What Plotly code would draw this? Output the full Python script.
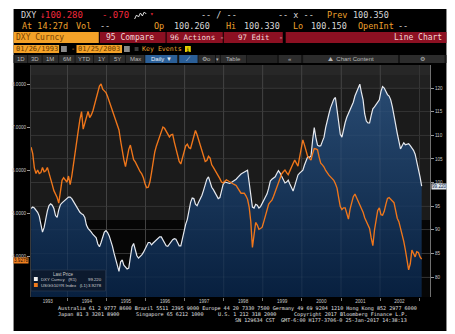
import plotly.graph_objects as go
import pandas as pd

# ---------------- data ----------------
start_date = "1993-01-26"
end_date = "2003-01-25"

dxy = [
    94.5, 94.8, 94.6, 94.1, 93.7, 92.9, 91.3, 89.5, 90.5, 92.6, 94.0, 95.1, 95.5, 95.2, 94.5, 93.0, 92.6, 94.2, 95.3, 95.7, 96.0, 96.2, 96.6, 96.9,
    96.9, 96.6, 96.0, 95.4, 94.8, 94.0, 93.7, 93.4, 93.2, 92.6, 91.0, 90.3, 90.0, 89.5, 89.0, 88.7, 88.3, 87.0, 86.4, 87.3, 88.5, 89.5, 89.8, 89.4,
    88.7, 87.7, 86.5, 85.0, 83.6, 82.3, 81.2, 83.2, 83.6, 82.5, 82.0, 81.7, 81.9, 84.8, 86.4, 87.1, 85.6, 84.5, 84.0, 84.3, 84.7, 85.2, 86.0, 86.8,
    87.3, 87.3, 86.8, 87.2, 87.5, 87.9, 88.2, 88.5, 88.5, 87.8, 87.0, 86.6, 86.5, 87.0, 87.5, 87.9, 88.1, 88.0, 87.3, 86.6, 86.6, 88.2, 89.5, 91.2,
    92.2, 94.4, 95.8, 96.7, 96.6, 95.4, 95.1, 95.9, 96.5, 97.3, 98.4, 99.8, 100.7, 101.2, 100.2, 99.0, 98.5, 97.8, 97.4, 96.6, 96.8, 98.5, 99.6, 100.1,
    100.0, 99.8, 99.8, 100.0, 100.2, 100.4, 100.7, 101.1, 101.5, 101.8, 102.0, 102.2, 102.4, 102.6, 100.0, 97.3, 94.8, 94.6, 95.4, 95.2, 94.6, 94.9, 95.5, 96.1,
    96.9, 97.6, 98.8, 100.3, 100.7, 100.9, 101.2, 101.9, 102.5, 102.0, 101.3, 100.6, 99.9, 100.1, 100.5, 99.7, 98.8, 98.2, 99.3, 100.7, 101.6, 102.0, 102.3, 102.6,
    103.7, 104.8, 105.5, 105.3, 105.6, 109.0, 111.6, 109.5, 107.9, 107.7, 107.8, 108.7, 109.6, 111.6, 113.3, 114.5, 115.8, 116.9, 117.6, 118.0, 115.5, 113.3, 110.2, 109.6,
    111.3, 112.7, 113.8, 114.6, 115.5, 116.2, 117.0, 118.3, 119.2, 120.2, 120.8, 119.0, 117.5, 114.5, 113.0, 112.6, 112.6, 114.2, 115.6, 116.0, 116.6, 116.9, 117.5, 119.3,
    120.3, 120.0, 119.1, 118.6, 118.3, 117.5, 116.0, 114.5, 112.3, 110.4, 108.3, 107.1, 107.8, 108.4, 108.0, 108.1, 108.2, 107.8, 107.4, 106.8, 106.0, 104.5, 103.1, 101.2,
    99.22,
]

usgg10yr = [
    6.53, 6.38, 6.05, 5.92, 6.00, 5.92, 5.94, 6.06, 5.96, 5.98, 6.06, 5.94, 5.80, 5.66, 5.52, 5.44, 5.36, 5.23, 5.50, 5.76, 5.82, 5.78, 5.72, 5.86,
    5.66, 5.86, 6.10, 6.36, 6.62, 6.92, 7.18, 7.36, 6.95, 7.08, 7.27, 7.36, 7.22, 7.28, 7.38, 7.53, 7.71, 7.84, 7.95, 8.00, 7.88, 7.84, 7.80, 7.71,
    7.60, 7.49, 7.36, 7.25, 7.12, 7.02, 6.93, 6.68, 6.42, 6.24, 6.08, 6.34, 6.48, 6.58, 6.40, 6.24, 6.19, 6.10, 6.04, 5.96, 5.91, 5.82, 5.68, 5.59,
    5.60, 5.72, 5.94, 6.24, 6.42, 6.56, 6.66, 6.78, 6.90, 7.00, 6.97, 6.91, 6.82, 6.77, 6.82, 6.83, 6.65, 6.50, 6.36, 6.20, 6.14, 6.30, 6.44, 6.56,
    6.60, 6.52, 6.50, 6.64, 6.78, 6.92, 6.82, 6.70, 6.54, 6.42, 6.32, 6.20, 6.22, 6.32, 6.28, 6.12, 6.06, 6.00, 5.94, 5.88, 5.80, 5.72, 5.70, 5.74,
    5.77, 5.75, 5.72, 5.70, 5.68, 5.66, 5.64, 5.58, 5.50, 5.46, 5.46, 5.46, 5.40, 5.32, 5.14, 4.80, 4.20, 4.50, 4.78, 4.72, 4.62, 4.64, 4.67, 4.80,
    4.96, 5.10, 5.21, 5.26, 5.30, 5.39, 5.49, 5.62, 5.72, 5.82, 5.91, 5.96, 6.00, 5.94, 5.89, 5.98, 6.08, 6.15, 6.23, 6.16, 6.09, 6.30, 6.55, 6.70,
    6.58, 6.44, 6.31, 6.27, 6.23, 6.38, 6.50, 6.49, 6.47, 6.30, 6.16, 6.12, 6.07, 5.99, 5.92, 5.88, 5.84, 5.81, 5.76, 5.68, 5.58, 5.36, 5.15, 5.08,
    5.12, 5.12, 4.96, 4.86, 5.09, 5.26, 5.38, 5.44, 5.35, 5.28, 5.20, 5.12, 5.02, 4.89, 4.80, 4.72, 4.64, 4.42, 4.24, 4.60, 4.86, 5.06, 5.12, 4.96,
    4.95, 5.04, 5.20, 5.34, 5.36, 5.31, 5.28, 5.24, 5.06, 4.88, 4.80, 4.66, 4.50, 4.34, 4.14, 3.92, 3.68, 3.82, 4.14, 4.06, 3.98, 4.10, 4.08, 3.98,
    3.9278,
]

year_labels = ["1993", "1994", "1995", "1996", "1997", "1998", "1999", "2000", "2001", "2002"]
year_starts = ["1994", "1995", "1996", "1997", "1998", "1999", "2000", "2001", "2002", "2003"]
dxy_ticks = [80, 85, 90, 95, 100, 105, 110, 115, 120]
rate_ticks = [4, 5, 6, 7, 8]
rate_tick_text = ["4.0000", "5.0000", "6.0000", "7.0000", "8.0000"]
dxy_last = "99.220"
rate_last = "3.9278"

dates = pd.date_range(start_date, end_date, periods=len(dxy))

# ---------------- geometry helpers ----------------
W, H = 455, 334
L, R, T, B = 21, 22, 65, 37
PW = W - L - R
PH = H - T - B
MONO = "DejaVu Sans Mono"
SANS = "Liberation Sans"


def fx(x):
    return (x - L) / PW


def fy(y):
    return (H - B - y) / PH


shapes = []
annos = []


def rect(x0, y0, x1, y1, fill, line=None, layer="below"):
    shapes.append(dict(type="rect", xref="paper", yref="paper",
                       x0=fx(x0), x1=fx(x1), y0=fy(y1), y1=fy(y0),
                       fillcolor=fill,
                       line=dict(width=0.7 if line else 0, color=line or fill),
                       layer=layer))


def text(x, y, s, color, size, anchor="left", family=MONO, bg=None):
    d = dict(xref="paper", yref="paper", x=fx(x), y=fy(y), text=s,
             showarrow=False, xanchor=anchor, yanchor="middle",
             font=dict(family=family, size=size, color=color), borderpad=0)
    if bg:
        d["bgcolor"] = bg
    annos.append(d)


# panel
rect(3, 9, 450, 331, "#000000")
# plot background bands
rect(L, T, 433, 75, "#272727")
rect(L, 75, 433, 88, "#212121")
rect(L, 88, 433, 220, "#1b1b1b")
rect(L, 220, 433, 297, "#060606")

# faint grid showing through the area fill
for ys in year_starts[:-1]:
    shapes.append(dict(type="line", xref="x", yref="paper", x0=f"{ys}-01-01", x1=f"{ys}-01-01",
                       y0=0, y1=1, line=dict(color="rgba(255,255,255,0.07)", width=1), layer="above"))
for v in dxy_ticks:
    shapes.append(dict(type="line", xref="paper", yref="y", x0=0, x1=1, y0=v, y1=v,
                       line=dict(color="rgba(255,255,255,0.04)", width=1), layer="above"))

ORG = "#eea02c"
WHT = "#d8d8d8"
RED = "#f0283c"

# header row 1
text(10, 15, "DXY", WHT, 8.5)
text(29, 15, "↓", RED, 9)
text(34, 15, "100.280", RED, 9)
text(93, 15, "-.070", RED, 9)
sp = [(128, 19), (130, 15), (132, 17), (134, 13), (136, 16), (138, 12), (140, 14)]
path = "M " + " L ".join(f"{fx(a):.5f},{fy(b):.5f}" for a, b in sp)
shapes.append(dict(type="path", xref="paper", yref="paper", path=path,
                   line=dict(color="#e0e0e0", width=1), layer="above"))
text(143, 13, "▾", RED, 6)
text(196, 15, "-- / --", WHT, 8.5)
text(275, 15, "-- x --", WHT, 8.5)
text(326, 15, "Prev", ORG, 8.5)
text(352, 15, "100.350", WHT, 8.5)

# header row 2
text(11, 26, "At 14:27d", ORG, 8.5)
text(66, 26, "Vol", ORG, 8.5)
text(91, 26, "--", WHT, 8.5)
text(147, 26, "Op", ORG, 8.5)
text(168, 26, "100.260", WHT, 8.5)
text(221, 26, "Hi", ORG, 8.5)
text(240, 26, "100.330", WHT, 8.5)
text(290, 26, "Lo", ORG, 8.5)
text(309, 26, "100.150", WHT, 8.5)
text(358, 26, "OpenInt", ORG, 8.5)
text(399, 26, "--", WHT, 8.5)

# row 3 : function bar
BARRED = "#8c1022"
rect(3, 32, 91, 43, "#f4a228")
text(4, 37.5, "DXY Curncy", "#7a4300", 8)
rect(92, 32, 160, 43, BARRED)
text(97, 37.5, "95 Compare", "#f2d6d6", 8)
rect(161, 32, 219, 43, BARRED)
text(164, 37.5, "96 Actions -", "#f2d6d6", 7.5)
rect(220, 32, 281, 43, BARRED)
text(234, 37.5, "97 Edit  -", "#f2d6d6", 7.5)
rect(284, 32, 450, 43, BARRED)
text(446, 37.5, "Line Chart", "#f2d6d6", 8, anchor="right")

# row 4 : dates
rect(3, 45, 50, 53, "#f4a228")
text(4, 49, "01/26/1993", "#6a3a00", 7)
rect(52, 46, 58, 52, "#8a8a8a")
text(61, 49, "-", ORG, 7)
rect(68, 45, 115, 53, "#f4a228")
text(69, 49, "01/25/2003", "#6a3a00", 7)
rect(117, 46, 123, 52, "#8a8a8a")
rect(128, 47, 132, 51, "#3a3a3a")
text(135, 49, "Key Events", ORG, 6.6)
rect(180, 46, 186, 52, "#e6d000")
text(183, 49, "i", "#000000", 6, anchor="center")

# row 5 : toolbar
rect(3, 55, 450, 63, "#151515")
TB = "#2c2c2c"
TT = "#b8b8b8"
for lab, a, b in [("1D", 4, 17), ("3D", 18, 32), ("1M", 33, 49), ("6M", 50, 66),
                  ("YTD", 67, 85), ("1Y", 86, 101), ("5Y", 102, 118), ("Max", 119, 138)]:
    rect(a, 55, b, 63, TB)
    text((a + b) / 2, 59, lab, TT, 6, anchor="center", family=SANS)
rect(139, 55, 172, 63, "#2b5f97")
text(155.5, 59, "Daily ▼", "#e8eef6", 6, anchor="center", family=SANS)
rect(174, 55, 193, 63, "#2b5f97")
text(183.5, 59, "⟋", "#e8eef6", 6, anchor="center", family=SANS)
rect(194, 55, 211, 63, TB)
text(202.5, 59, "⚙o", TT, 6, anchor="center", family=SANS)
rect(212, 55, 216, 63, TB)
text(214, 59, "▾", TT, 5, anchor="center", family=SANS)
rect(217, 55, 243, 63, TB)
text(230, 59, "Table", TT, 6, anchor="center", family=SANS)
rect(244, 55, 275, 63, "#222222")
rect(277, 55, 300, 63, TB)
text(288.5, 59, "«", TT, 6, anchor="center", family=SANS)
rect(302, 55, 400, 63, TB)
text(351, 59, "⛰  Chart Content", TT, 6, anchor="center", family=SANS)
rect(402, 55, 448, 63, TB)
text(425, 59, "⚙", TT, 6, anchor="center", family=SANS)

# legend box
rect(21, 270, 98, 291, "#0c1a2e", line="#2a3a52", layer="above")
text(55, 274, "Last Price", "#c8c8c8", 4.5, anchor="center", family=SANS)
rect(24, 277, 28, 281, "#f0f0f0", layer="above")
text(30, 279, "DXY Curncy   (R1)", "#d0d0d0", 4.3, family=SANS)
text(95, 279, dxy_last, "#d0d0d0", 4.3, anchor="right", family=SANS)
rect(24, 283, 28, 287, "#f07a1a", layer="above")
text(30, 285, "USGG10YR Index   (L1)", "#d0d0d0", 4.3, family=SANS)
text(95, 285, rate_last, "#d0d0d0", 4.3, anchor="right", family=SANS)

# last value labels
text(442.5, 186, dxy_last, "#0c2547", 4.6, anchor="center", family=SANS, bg="#dfe5ec")
text(10.5, 260, rate_last, "#1a0a00", 4.6, anchor="center", family=SANS, bg="#f08020")

# footer
FT = "#e2e2e2"
text(48, 308, "Australia 61 2 9777 8600 Brazil 5511 2395 9000 Europe 44 20 7330 7500 Germany 49 69 9204 1210 Hong Kong 852 2977 6000", FT, 5.1)
text(48, 314, "Japan 81 3 3201 8900", FT, 5.1)
text(128, 314, "Singapore 65 6212 1000", FT, 5.1)
text(213, 314, "U.S. 1 212 318 2000", FT, 5.1)
text(292, 314, "Copyright 2017 Bloomberg Finance L.P.", FT, 5.1)
text(410, 320, "SN 129634 CST  GMT-6:00 H177-3706-0 25-Jan-2017 14:38:13", FT, 5.1, anchor="right")

# ---------------- figure ----------------
fig = go.Figure()
fig.add_trace(go.Scatter(
    x=dates, y=dxy, yaxis="y", mode="lines",
    line=dict(color="#e6e9ef", width=1.2),
    fill="tozeroy",
    fillgradient=dict(type="vertical",
                      colorscale=[[0, "#08203f"], [1, "#284a71"]],
                      start=75.8, stop=121),
    hoverinfo="skip", name="DXY Curncy"))
fig.add_trace(go.Scatter(
    x=dates, y=usgg10yr, yaxis="y2", mode="lines",
    line=dict(color="#f0761a", width=1.35),
    hoverinfo="skip", name="USGG10YR Index"))

tickfont = dict(family=SANS, size=4.6, color="#c8c8c8")
fig.update_layout(
    width=W, height=H,
    margin=dict(l=L, r=R, t=T, b=B, pad=0),
    paper_bgcolor="#ffffff",
    plot_bgcolor="#1b1b1b",
    showlegend=False,
    hovermode=False,
    xaxis=dict(type="date", range=["1993-01-25", "2003-04-13"],
               tickmode="array",
               tickvals=[f"{y}-07-01" for y in year_labels],
               ticktext=year_labels,
               ticks="", showgrid=False, zeroline=False, showline=False,
               tickfont=tickfont,
               minor=dict(tickmode="array",
                          tickvals=[f"{y}-01-01" for y in year_starts],
                          ticks="outside", ticklen=3, tickcolor="#777",
                          showgrid=True, gridcolor="#353535", gridwidth=1)),
    yaxis=dict(side="right", range=[75.77, 124.87], tickmode="array",
               tickvals=dxy_ticks, ticks="outside", ticklen=3, tickcolor="#999",
               showline=True, linecolor="#707070", linewidth=1,
               showgrid=True, gridcolor="#2c2c2c", gridwidth=1,
               zeroline=False, tickfont=tickfont),
    yaxis2=dict(side="left", overlaying="y", range=[3.047, 8.442], tickmode="array",
                tickvals=rate_ticks, ticktext=rate_tick_text,
                ticks="outside", ticklen=3, tickcolor="#999",
                showline=True, linecolor="#3a3a3a", linewidth=1,
                showgrid=False, zeroline=False, tickfont=tickfont),
    shapes=shapes,
    annotations=annos,
)

fig.write_html("out.html")
